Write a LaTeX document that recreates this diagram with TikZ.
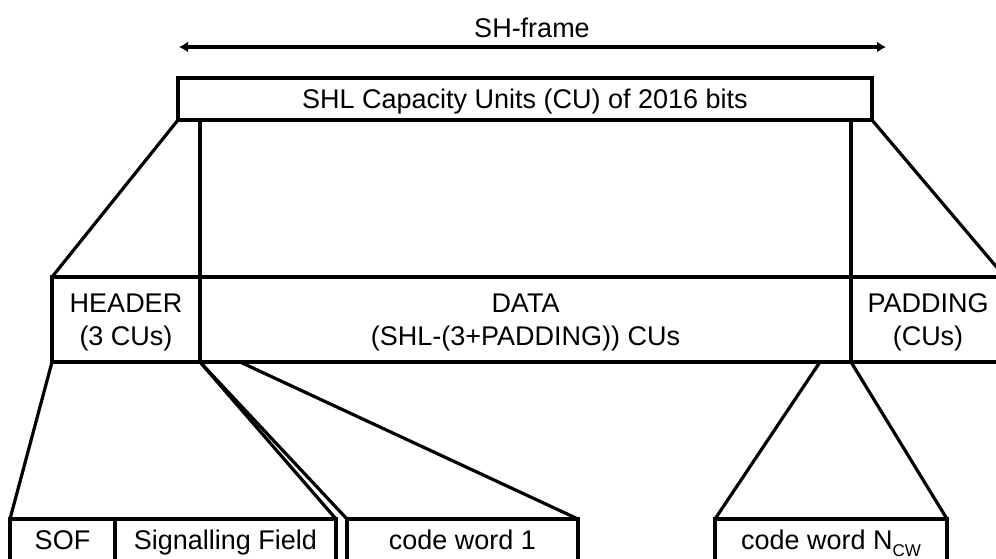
\documentclass[tikz,border=0pt]{standalone}
\usepackage{fontspec}
\setsansfont{Liberation Sans}
\usetikzlibrary{arrows.meta}
\usetikzlibrary{shapes}

\begin{document}
\begin{tikzpicture}[x = 1pt, y = -1pt, font = \sffamily\fontsize{27}{33}\selectfont, line width = 3.2pt]
\tikzstyle{FieldStyle} = [shape = rectangle, draw, inner sep = 0pt, outer sep = 0pt, align = center]
\tikzstyle{RowStyle} = [FieldStyle, minimum height = 42pt, text height = 22pt, text depth = 3pt]
\tikzstyle{MidStyle} = [FieldStyle, minimum height = 85pt, text depth = 0pt]
\useasboundingbox (0,0) rectangle (996,559);
% frame
\node (title) at (532,28) {SH-frame};
\coordinate (fl) at (179,47);
\coordinate (fr) at (886,47);
\draw[{Latex[length = 9pt, width = 11pt]}-{Latex[length = 9pt, width = 11pt]}] (fl) -- (fr);
\node[RowStyle, minimum width = 694pt] (shl) at (525,99) {SHL Capacity Units (CU) of 2016 bits};
% split of the frame
\node[MidStyle, minimum width = 148pt] (hdr) at (126,319.5) {HEADER\\(3 CUs)};
\node[MidStyle, minimum width = 651pt] (data) at (525.5,319.5) {DATA\\(SHL-(3+PADDING)) CUs};
\node[MidStyle, minimum width = 154pt] (pad) at (928,319.5) {PADDING\\(CUs)};
% fields
\node[RowStyle, minimum width = 105pt] (sof) at (62.5,540) {SOF};
\node[RowStyle, minimum width = 221pt] (sig) at (225.5,540) {Signalling Field};
\node[RowStyle, minimum width = 231pt] (cw1) at (462.5,540) {code word 1};
\node[RowStyle, minimum width = 232pt] (cwn) at (831,540) {code word N\raisebox{-7pt}[0pt][0pt]{\fontsize{17}{17}\selectfont CW}};
\draw (shl.south west) -- (hdr.north west);
\draw (data.north west) -- (data.north west |- shl.south);
\draw (pad.north west) -- (pad.north west |- shl.south);
\draw (shl.south east) -- (pad.north east);
\draw (hdr.south west) -- (sof.north west);
\draw (hdr.south east) -- (sig.north east);
\draw (hdr.south east) -- (cw1.north west);
\draw ([xshift = 40pt]data.south west) -- (cw1.north east);
\draw ([xshift = -31pt]data.south east) -- (cwn.north west);
\draw (data.south east) -- (cwn.north east);
\end{tikzpicture}
\end{document}
